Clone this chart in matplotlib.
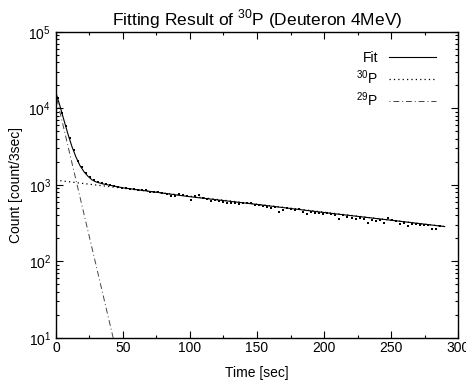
import numpy as np
import matplotlib
matplotlib.use("Agg")
import matplotlib.pyplot as plt
from matplotlib.ticker import MultipleLocator, LogLocator, NullFormatter

plt.rcParams["font.family"] = ["Liberation Sans", "DejaVu Sans"]
plt.rcParams["mathtext.fontset"] = "custom"
plt.rcParams["mathtext.rm"] = "Liberation Sans"

# measured counts, 3 sec bins
time_s = [
    1.5, 4.5, 7.5, 10.5, 13.5, 16.5, 19.5, 22.5, 25.5, 28.5, 31.5, 34.5,
    37.5, 40.5, 43.5, 46.5, 49.5, 52.5, 55.5, 58.5, 61.5, 64.5, 67.5, 70.5,
    73.5, 76.5, 79.5, 82.5, 85.5, 88.5, 91.5, 94.5, 97.5, 100.5, 103.5, 106.5,
    109.5, 112.5, 115.5, 118.5, 121.5, 124.5, 127.5, 130.5, 133.5, 136.5, 139.5, 142.5,
    145.5, 148.5, 151.5, 154.5, 157.5, 160.5, 163.5, 166.5, 169.5, 172.5, 175.5, 178.5,
    181.5, 184.5, 187.5, 190.5, 193.5, 196.5, 199.5, 202.5, 205.5, 208.5, 211.5, 214.5,
    217.5, 220.5, 223.5, 226.5, 229.5, 232.5, 235.5, 238.5, 241.5, 244.5, 247.5, 250.5,
    253.5, 256.5, 259.5, 262.5, 265.5, 268.5, 271.5, 274.5, 277.5, 280.5, 283.5, 286.5,
]
counts = [
    13500, 8600, 5800, 4100, 2900, 2050, 1700, 1420, 1260, 1170, 1100, 1060,
    1030, 1000, 965, 935, 915, 905, 885, 880, 865, 860, 845, 795,
    810, 803, 780, 760, 725, 705, 756, 733, 705, 637, 718, 747,
    670, 656, 624, 637, 618, 594, 587, 577, 577, 565, 577, 577,
    577, 551, 546, 531, 521, 500, 521, 447, 471, 500, 485, 466,
    490, 447, 417, 447, 434, 427, 417, 434, 417, 405, 360, 398,
    378, 367, 357, 367, 360, 322, 349, 342, 349, 322, 367, 349,
    342, 309, 322, 291, 309, 306, 303, 300, 300, 263, 263, 291,
]

# fitted curve
fit_t = [0, 3, 6, 9, 12, 15, 18, 21, 24, 27, 30, 35, 40, 50, 100, 150, 200, 250, 290]
fit_c = [16000, 10800, 7000, 4600, 3150, 2300, 1780, 1480, 1290, 1160, 1090, 1030,
         990, 915, 700, 555, 435, 345, 285]

# components (straight lines on log scale)
p30_t = [0, 290]
p30_c = [1150, 285]
p29_t = [0, 42.7]
p29_c = [15000, 10]

fig = plt.figure(figsize=(4.66, 3.80), dpi=100)
ax = fig.add_axes([0.120, 0.111, 0.863, 0.805])

ax.plot(fit_t, fit_c, "-", color="black", lw=0.8, label="Fit")
ax.plot(p30_t, p30_c, color="black", lw=0.9, linestyle=(0, (1, 2.5)), label="$^{30}$P")
ax.plot(p29_t, p29_c, color="#444444", lw=0.7, linestyle=(0, (1, 3, 6, 3)),
        label="$^{29}$P")
ax.plot(time_s, counts, "s", color="black", ms=2.0, mew=0)

ax.set_yscale("log")
ax.set_xlim(0, 300)
ax.set_ylim(10, 1e5)

ax.xaxis.set_major_locator(MultipleLocator(50))
ax.xaxis.set_minor_locator(MultipleLocator(25))
ax.yaxis.set_major_locator(LogLocator(base=10))
ax.yaxis.set_minor_locator(LogLocator(base=10, subs=np.arange(2, 10)))
ax.yaxis.set_minor_formatter(NullFormatter())

ax.tick_params(which="both", direction="in", top=True, right=True, labelsize=10,
               width=0.8)
ax.tick_params(which="major", length=5)
ax.tick_params(axis="x", which="both", pad=2)
ax.tick_params(which="minor", length=2.5)
for sp in ax.spines.values():
    sp.set_linewidth(1.0)

ax.set_title("Fitting Result of $^{30}$P (Deuteron 4MeV)", fontsize=12.5, pad=5)
ax.set_xlabel("Time [sec]", fontsize=10, labelpad=8)
ax.set_ylabel("Count [count/3sec]", fontsize=10, labelpad=4)

ax.legend(loc="upper right", frameon=False, markerfirst=False, fontsize=10,
          handlelength=3.4, labelspacing=0.25, borderaxespad=0.3,
          bbox_to_anchor=(0.97, 0.97))

fig.savefig("out.png", dpi=100)
